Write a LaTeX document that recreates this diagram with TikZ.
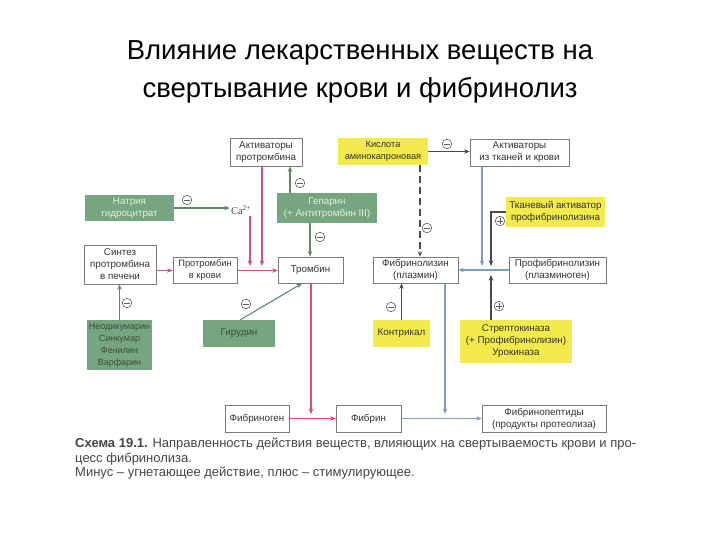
\documentclass[tikz,border=0pt]{standalone}
\usepackage{fontspec}
\setmainfont{Liberation Sans}
\newfontfamily\serifca{Liberation Serif}
\usetikzlibrary{arrows.meta}
\definecolor{boxline}{HTML}{7A7A7A}
\definecolor{grfill}{HTML}{76A67F}
\definecolor{grtext}{HTML}{E2EEE2}
\definecolor{grdark}{HTML}{3C4E3F}
\definecolor{yefill}{HTML}{F3EA4C}
\definecolor{redl}{HTML}{D0507A}
\definecolor{bluel}{HTML}{7C9CC8}
\definecolor{darkl}{HTML}{4A4A4A}
\definecolor{signc}{HTML}{5E5E5E}
\definecolor{greenl}{HTML}{5C8A66}
\definecolor{captxt}{HTML}{454545}
\tikzset{
  wbox/.style={draw=boxline, line width=0.7pt, fill=white, align=center, inner sep=1pt,
     font=\fontsize{9.8}{12}\selectfont, text=black!80},
  gbox/.style={fill=grfill, align=center, inner sep=1pt, font=\fontsize{9.8}{12}\selectfont, text=grtext},
  gboxd/.style={gbox, text=grdark},
  ybox/.style={fill=yefill, align=center, inner sep=1pt, font=\fontsize{9.8}{12}\selectfont, text=black!80},
  tip/.style={-{Stealth[length=5.5pt,width=4.5pt]}},
  redarr/.style={tip, draw=redl, line width=1.1pt},
  bluearr/.style={tip, draw=bluel, line width=1.1pt},
  darkarr/.style={tip, draw=darkl, line width=1.1pt},
  grarr/.style={tip, draw=greenl, line width=1.1pt},
  signm/.style={circle, draw=signc, line width=0.6pt, minimum size=9.5pt, inner sep=0pt,
     path picture={\draw[signc, line width=0.7pt]
       ([xshift=-2.6pt]path picture bounding box.center) -- ([xshift=2.6pt]path picture bounding box.center);}},
  signp/.style={signm, path picture={\draw[signc, line width=0.7pt]
       ([xshift=-2.6pt]path picture bounding box.center) -- ([xshift=2.6pt]path picture bounding box.center)
       ([yshift=-2.6pt]path picture bounding box.center) -- ([yshift=2.6pt]path picture bounding box.center);}},
}
\begin{document}
\begin{tikzpicture}[x=1pt,y=-1pt]
\useasboundingbox (0,0) rectangle (720,540);
% title
\node[font=\fontsize{27.5}{38}\selectfont, align=center, text=black] (title) at (360,72)
  {Влияние лекарственных веществ на\\свертывание крови и фибринолиз};
% boxes
\node[wbox, minimum width=72pt, minimum height=28pt] (aprot) at (266,152) {Активаторы\\протромбина};
\node[ybox, minimum width=90pt, minimum height=27pt, font=\fontsize{9.2}{12}\selectfont] (kisl) at (383,151.5) {Кислота\\аминокапроновая};
\node[wbox, minimum width=99pt, minimum height=27pt] (atk) at (519.5,152.5) {Активаторы\\из тканей и крови};
\node[gbox, minimum width=89pt, minimum height=26pt] (natr) at (129.5,208) {Натрия\\гидроцитрат};
\node[text=darkl, font=\serifca\fontsize{10.5}{10.5}\selectfont, inner sep=1pt] (ca) at (241,210) {Ca\textsuperscript{2+}};
\node[gbox, minimum width=100pt, minimum height=30pt] (gep) at (327,208) {Гепарин\\(+ Антитромбин III)};
\node[ybox, minimum width=99pt, minimum height=30pt] (tkan) at (555.5,212) {Тканевый активатор\\профибринолизина};
\node[wbox, minimum width=72pt, minimum height=39pt] (sint) at (120,264.5) {Синтез\\протромбина\\в печени};
\node[wbox, minimum width=64pt, minimum height=26pt, font=\fontsize{9.3}{12}\selectfont] (prkr) at (205,270.5) {Протромбин\\в крови};
\node[wbox, minimum width=65pt, minimum height=26pt] (tromb) at (310.5,270) {Тромбин};
\node[wbox, minimum width=85pt, minimum height=26pt] (fibl) at (415.5,270) {Фибринолизин\\(плазмин)};
\node[wbox, minimum width=97pt, minimum height=26pt] (profib) at (557.5,270) {Профибринолизин\\(плазминоген)};
\node[gboxd, minimum width=65pt, minimum height=50pt, font=\fontsize{9}{12}\selectfont] (neod) at (119.5,345) {Неодикумарин\\Синкумар\\Фенилин\\Варфарин};
\node[gboxd, minimum width=72pt, minimum height=27pt] (gir) at (239,333.5) {Гирудин};
\node[ybox, minimum width=57pt, minimum height=27pt] (kontr) at (401.5,333.5) {Контрикал};
\node[ybox, minimum width=112pt, minimum height=43pt] (strep) at (516,341.5) {Стрептокиназа\\(+ Профибринолизин)\\Урокиназа};
\node[wbox, minimum width=64pt, minimum height=27pt] (fgen) at (257,418.5) {Фибриноген};
\node[wbox, minimum width=65pt, minimum height=27pt] (fibrin) at (368.5,418.5) {Фибрин};
\node[wbox, minimum width=124pt, minimum height=27pt] (fpep) at (544,418.5) {Фибринопептиды\\(продукты протеолиза)};
% junction coordinates
\coordinate (ja) at (262,266);
\coordinate (jb) at (250,266);
\coordinate (jc) at (482,266);
\coordinate (jd) at (491,266);
\coordinate (je) at (491,275);
\coordinate (jt) at (491,212);
\coordinate (jf) at (311,414);
\coordinate (jg) at (445,414);
% connectors: red
\draw[redarr] (aprot.south -| ja) -- (ja);
\draw[redarr] (ca.south -| jb) -- (jb);
\draw[redarr] (sint.east |- prkr) -- (prkr.west);
\draw[redarr] (prkr.east) -- (tromb.west |- prkr);
\draw[redarr] (tromb.south -| jf) -- (jf);
\draw[redarr] (fgen.east) -- (fibrin.west);
% blue
\draw[bluearr] (atk.south -| jc) -- (jc);
\draw[bluearr] (profib.west) -- (fibl.east);
\draw[bluearr] (fibl.south -| jg) -- (jg);
\draw[bluearr] (fibrin.east) -- (fpep.west);
% dark
\draw[darkarr] (kisl.east) -- (atk.west |- kisl);
\draw[darkarr, dashed, dash pattern=on 7pt off 4pt] (kisl.south -| 420,0) -- (fibl.north -| 420,0);
\draw[darkarr] (kontr.north) -- (kontr.north |- fibl.south);
\draw[darkarr] (tkan.west) -- (jt) -- (jd);
\draw[darkarr] (strep.north -| je) -- (je);
% green
\draw[grarr] (natr.east) -- (ca.west |- natr);
\draw[grarr] (gep.north -| 290,0) -- (aprot.south -| 290,0);
\draw[grarr] (gep.south -| 310,0) -- (tromb.north -| 310,0);
\draw[grarr] (neod.north) -- (sint.south -| neod.north);
\draw[grarr] (gir.north east) ++(-35,0) -- (302,283.5);
% signs
\node[signm] (m1) at (447,144) {};
\node[signm] (m2) at (187,200) {};
\node[signm] (m3) at (300,183) {};
\node[signm] (m4) at (320,237) {};
\node[signm] (m5) at (127,303) {};
\node[signm] (m6) at (246,304) {};
\node[signm] (m7) at (391,307) {};
\node[signm] (m8) at (427,228) {};
\node[signp] (p1) at (500,221) {};
\node[signp] (p2) at (499,306) {};
% caption
\node[anchor=north west, align=left, text=captxt, inner sep=0pt,
  font=\fontsize{13}{14.5}\selectfont] (cap) at (75,438)
  {\textbf{Схема 19.1.} Направленность действия веществ, влияющих на свертываемость крови и про-\\
   цесс фибринолиза.\\
   Минус – угнетающее действие, плюс – стимулирующее.};
\end{tikzpicture}
\end{document}
